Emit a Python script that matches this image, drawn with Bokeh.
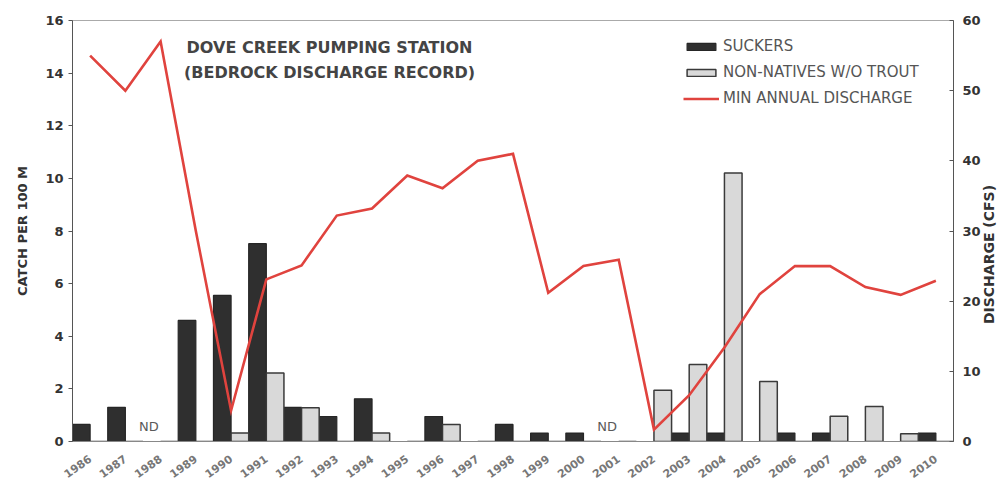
import math

from bokeh.core.properties import value
from bokeh.embed import file_html
from bokeh.models import (ColumnDataSource, FactorRange, Label, Legend, LegendItem,
                          LinearAxis, Range1d, SingleIntervalTicker)
from bokeh.plotting import figure
from bokeh.resources import INLINE
from bokeh.transform import dodge

# Sampling years and results (catch per 100 m, minimum annual discharge in cfs)
years = [str(y) for y in range(1986, 2011)]
suckers = [0.65, 1.3, 0, 4.6, 5.55, 7.52, 1.3, 0.95, 1.62, 0, 0.95, 0, 0.65,
           0.32, 0.32, 0, 0, 0.32, 0.32, 0, 0.32, 0.32, 0, 0, 0.32]
non_natives = [0, 0, 0, 0, 0.32, 2.6, 1.28, 0, 0.32, 0, 0.65, 0, 0, 0, 0, 0,
               1.95, 2.93, 10.2, 2.28, 0, 0.96, 1.33, 0.29, 0]
min_discharge = [55, 50, 57, 30, 4.4, 23.1, 25.1, 32.2, 33.2, 37.9, 36.1, 40.0,
                 41.0, 21.2, 25.0, 25.9, 1.7, 6.6, 13.4, 21.0, 25.0, 25.0, 22.0,
                 20.9, 22.9]
no_data_years = ["1988", "2001"]
no_data_text = ["ND", "ND"]

title_lines = ["DOVE CREEK PUMPING STATION", "(BEDROCK DISCHARGE RECORD)"]
right_axis_title = "DISCHARGE (CFS)"

FONT = "DejaVu Sans"
DARK = "#333333"

src = ColumnDataSource(dict(year=years, suckers=suckers, nn=non_natives, q=min_discharge))
nd_src = ColumnDataSource(dict(year=no_data_years, zero=[0] * len(no_data_years), txt=no_data_text))

p = figure(width=1000, height=485,
           x_range=FactorRange(factors=years, range_padding=0),
           y_range=Range1d(0, 16),
           output_backend="svg", toolbar_location=None,
           min_border_left=72, min_border_right=47,
           min_border_top=20, min_border_bottom=44)
p.extra_y_ranges = {"q": Range1d(0, 60)}

r_suck = p.vbar(x=dodge("year", -0.25, range=p.x_range), top="suckers", width=0.5,
                source=src, fill_color="#2f2f2f", line_color="#262626", line_width=1.2)
r_nn = p.vbar(x=dodge("year", 0.25, range=p.x_range), top="nn", width=0.5,
              source=src, fill_color="#d9d9d9", line_color="#3a3a3a", line_width=1.5)
r_q = p.line(x="year", y="q", y_range_name="q", source=src,
             line_color="#e0433e", line_width=2.6, line_join="miter")

p.text(x=dodge("year", -0.33, range=p.x_range), y="zero", text="txt", source=nd_src,
       text_font=value(FONT), text_font_size="13px", text_color="#5a5a5a",
       text_align="center", text_baseline="bottom", y_offset=-8)

# Title block inside the frame
for i, line in enumerate(title_lines):
    p.add_layout(Label(x=257, y=394 - 25 * i, x_units="screen", y_units="screen",
                       text=line, text_font=FONT, text_font_style="bold",
                       text_font_size="16px", text_color="#444444",
                       text_align="center", text_baseline="middle"))

# Axes
p.xgrid.visible = False
p.ygrid.visible = False
p.outline_line_color = "#aaaaaa"

xa = p.xaxis[0]
xa.major_label_orientation = 0.62
xa.major_tick_line_color = None
xa.axis_line_color = "#888888"
xa.major_label_text_font = FONT
xa.major_label_text_font_style = "bold"
xa.major_label_text_font_size = "11px"
xa.major_label_text_color = "#777777"
xa.major_label_standoff = 10

ya = p.yaxis[0]
ya.ticker = SingleIntervalTicker(interval=2)
ya.axis_label = "CATCH PER 100 M"
ya.axis_label_text_font = FONT
ya.axis_label_text_font_style = "bold"
ya.axis_label_text_font_size = "13px"
ya.axis_label_text_color = DARK
ya.axis_label_standoff = 12
ya.major_label_text_font = FONT
ya.major_label_text_font_style = "bold"
ya.major_label_text_font_size = "13px"
ya.major_label_text_color = DARK
ya.major_tick_out = 4
ya.major_tick_in = 0
ya.minor_tick_line_color = None
ya.axis_line_color = "#555555"
ya.major_tick_line_color = "#555555"

ra = LinearAxis(y_range_name="q", ticker=SingleIntervalTicker(interval=10))
ra.major_label_text_font = FONT
ra.major_label_text_font_style = "bold"
ra.major_label_text_font_size = "13px"
ra.major_label_text_color = DARK
ra.major_tick_out = 0
ra.major_tick_in = 4
ra.minor_tick_line_color = None
ra.axis_line_color = "#555555"
ra.major_tick_line_color = "#555555"
p.add_layout(ra, "right")

# Right-hand axis title, reading bottom to top
p.add_layout(Label(x=5, y=187, x_units="screen", y_units="screen",
                   text=right_axis_title, angle=math.pi / 2,
                   text_font=FONT, text_font_style="bold", text_font_size="14px",
                   text_color=DARK, text_align="center", text_baseline="middle"),
             "right")

legend = Legend(items=[
    LegendItem(label="SUCKERS", renderers=[r_suck]),
    LegendItem(label="NON-NATIVES W/O TROUT", renderers=[r_nn]),
    LegendItem(label="MIN ANNUAL DISCHARGE", renderers=[r_q]),
], location=(611, 333), glyph_width=36, glyph_height=9, label_height=20,
    label_standoff=4, spacing=6, padding=0, margin=0,
    border_line_alpha=0, background_fill_alpha=0,
    label_text_font=FONT, label_text_font_size="15px", label_text_color="#555555")
p.add_layout(legend, "center")

open("out.html", "w").write(file_html(p, INLINE))
